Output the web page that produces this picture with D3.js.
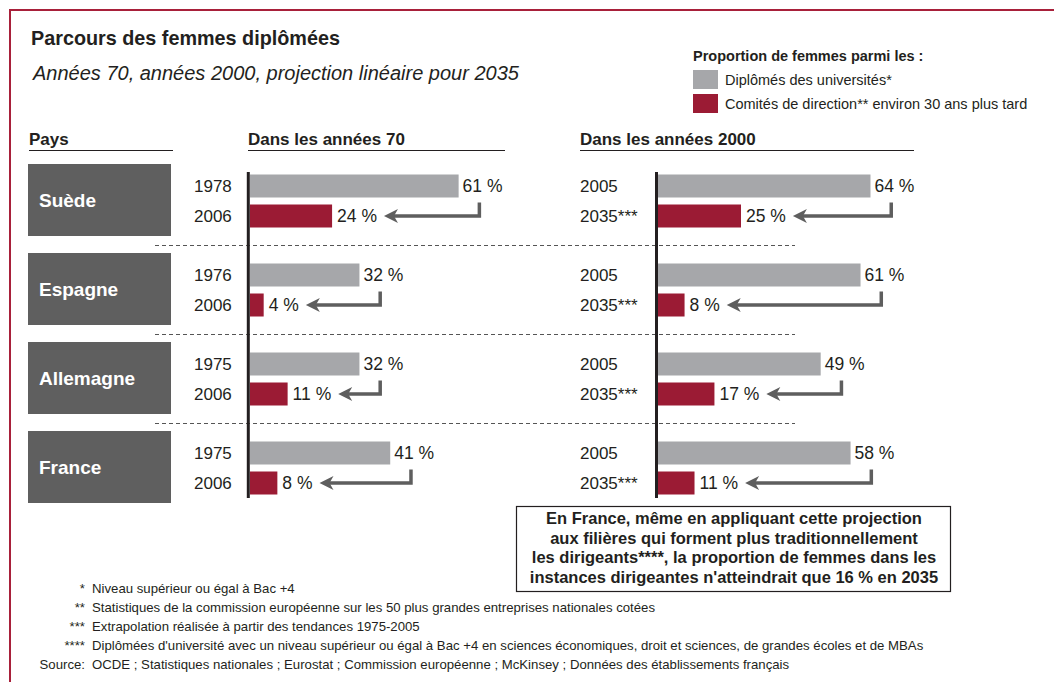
<!DOCTYPE html>
<html>
<head>
<meta charset="utf-8">
<script src="https://d3js.org/d3.v7.min.js"></script>
<style>
  body { margin: 0; background: white; }
  svg text { font-family: "Liberation Sans", Arial, sans-serif; fill: #231f20; }
</style>
</head>
<body>
<svg width="1054" height="682"></svg>
<script>
// data
var countries = ["Suède", "Espagne", "Allemagne", "France"];
var years70 = ["1978", "1976", "1975", "1975"];
var years70Board = ["2006", "2006", "2006", "2006"];
var grads70 = [61, 32, 32, 41];
var boards70 = [24, 4, 11, 8];
var years2000 = ["2005", "2005", "2005", "2005"];
var years2035 = ["2035***", "2035***", "2035***", "2035***"];
var grads2000 = [64, 61, 49, 58];
var boards2035 = [25, 8, 17, 11];

var footMarks = ["*", "**", "***", "****", "Source:"];
var footTexts = [
  "Niveau supérieur ou égal à Bac +4",
  "Statistiques de la commission européenne sur les 50 plus grandes entreprises nationales cotées",
  "Extrapolation réalisée à partir des tendances 1975-2005",
  "Diplômées d'université avec un niveau supérieur ou égal à Bac +4 en sciences économiques, droit et sciences, de grandes écoles et de MBAs",
  "OCDE ; Statistiques nationales ; Eurostat ; Commission européenne ; McKinsey ; Données des établissements français"
];
var boxLines = [
  "En France, même en appliquant cette projection",
  "aux filières qui forment plus traditionnellement",
  "les dirigeants****, la proportion de femmes dans les",
  "instances dirigeantes n'atteindrait que 16 % en 2035"
];

var grey = "#a6a7aa", red = "#9b1b34", boxCol = "#5f5f5f", arrowCol = "#5e5e5e";

var svg = d3.select("svg");

// frame
svg.append("rect").attr("x", 10).attr("y", 10).attr("width", 1100).attr("height", 700)
  .attr("fill", "none").attr("stroke", "#a8203a").attr("stroke-width", 2);

svg.append("text").attr("x", 31).attr("y", 45).style("font-size", "19.8px").style("font-weight", "bold")
  .text("Parcours des femmes diplômées");
svg.append("text").attr("x", 33).attr("y", 80).style("font-size", "20px").style("font-style", "italic")
  .text("Années 70, années 2000, projection linéaire pour 2035");

// legend
svg.append("text").attr("x", 693).attr("y", 61).style("font-size", "14.5px").style("font-weight", "bold")
  .text("Proportion de femmes parmi les :");
var legend = [["Diplômés des universités*", grey], ["Comités de direction** environ 30 ans plus tard", red]];
legend.forEach(function(l, i) {
  svg.append("rect").attr("x", 693).attr("y", 70 + i * 24).attr("width", 25).attr("height", 19).attr("fill", l[1]);
  svg.append("text").attr("x", 725).attr("y", 85 + i * 24).style("font-size", "14.5px").text(l[0]);
});

// column headers
var headers = [["Pays", 29, 173], ["Dans les années 70", 248, 505], ["Dans les années 2000", 580, 914]];
headers.forEach(function(h) {
  svg.append("text").attr("x", h[1]).attr("y", 145).style("font-size", "17px").style("font-weight", "bold").text(h[0]);
  svg.append("line").attr("x1", h[1]).attr("x2", h[2]).attr("y1", 150.5).attr("y2", 150.5)
    .attr("stroke", "#231f20").attr("stroke-width", 1.2);
});

// scales
var ys = d3.scaleBand().domain(countries).range([164, 503]).paddingInner(17 / 89);
var inner = d3.scaleBand().domain(["grad", "board"]).range([10.5, 63.5]).paddingInner(7 / 30);
var xLeft = d3.scaleLinear().domain([0, 100]).range([250, 592]);
var xRight = d3.scaleLinear().domain([0, 100]).range([658, 990]);

// country boxes
countries.forEach(function(c) {
  svg.append("rect").attr("x", 28).attr("y", ys(c)).attr("width", 143).attr("height", ys.bandwidth()).attr("fill", boxCol);
  svg.append("text").attr("x", 39).attr("y", ys(c) + ys.bandwidth() / 2 + 7)
    .style("font-size", "19px").style("font-weight", "bold").style("fill", "white").text(c);
});

// dashed separators
countries.slice(1).forEach(function(c) {
  var y = Math.round(ys(c) - ys.step() * ys.paddingInner() / 2) + 0.5;
  svg.append("line").attr("x1", 155).attr("x2", 795).attr("y1", y).attr("y2", y)
    .attr("stroke", "#555").attr("stroke-width", 1).attr("stroke-dasharray", "4,3");
});

function panel(xs, axisX, yearX, yearsA, yearsB, gradVals, boardVals) {
  var g = svg.append("g");
  countries.forEach(function(c, i) {
    var gy = ys(c) + inner("grad"), by = ys(c) + inner("board"), h = inner.bandwidth();
    g.append("rect").attr("x", xs(0)).attr("y", gy).attr("width", xs(gradVals[i]) - xs(0)).attr("height", h).attr("fill", grey);
    g.append("rect").attr("x", xs(0)).attr("y", by).attr("width", xs(boardVals[i]) - xs(0)).attr("height", h).attr("fill", red);
    g.append("text").attr("x", yearX).attr("y", gy + h / 2).attr("dy", "0.36em").style("font-size", "17px").text(yearsA[i]);
    g.append("text").attr("x", yearX).attr("y", by + h / 2).attr("dy", "0.36em").style("font-size", "17px").text(yearsB[i]);
    var gl = g.append("text").attr("x", xs(gradVals[i]) + 4).attr("y", gy + h / 2).attr("dy", "0.36em")
      .style("font-size", "17.5px").text(gradVals[i] + " %");
    var bl = g.append("text").attr("x", xs(boardVals[i]) + 5).attr("y", by + h / 2).attr("dy", "0.36em")
      .style("font-size", "17.5px").text(boardVals[i] + " %");
    // arrow from the graduate label down to the board label
    var vx = xs(gradVals[i]) + 4 + gl.node().getComputedTextLength() * 0.42;
    var tx = xs(boardVals[i]) + 5 + bl.node().getComputedTextLength() + 7;
    var cy = by + h / 2;
    g.append("path").attr("d", "M" + vx + "," + (gy + h + 5) + "V" + cy + "H" + (tx + 8))
      .attr("fill", "none").attr("stroke", arrowCol).attr("stroke-width", 3.5);
    g.append("path").attr("d", "M" + tx + "," + cy + "L" + (tx + 14) + "," + (cy - 7) + "L" + (tx + 10) + "," + cy +
      "L" + (tx + 14) + "," + (cy + 7) + "Z").attr("fill", arrowCol);
  });
  g.append("line").attr("x1", axisX).attr("x2", axisX).attr("y1", 172).attr("y2", 498)
    .attr("stroke", "#231f20").attr("stroke-width", 3);
}
panel(xLeft, 248.3, 194, years70, years70Board, grads70, boards70);
panel(xRight, 656.5, 580, years2000, years2035, grads2000, boards2035);

// note box
svg.append("rect").attr("x", 516.5).attr("y", 506.5).attr("width", 434).attr("height", 85)
  .attr("fill", "white").attr("stroke", "#231f20").attr("stroke-width", 1.2);
boxLines.forEach(function(t, i) {
  svg.append("text").attr("x", 734).attr("y", 524 + i * 19.5).attr("text-anchor", "middle")
    .style("font-size", "16.5px").style("font-weight", "bold").text(t);
});

// footnotes
footMarks.forEach(function(m, i) {
  svg.append("text").attr("x", 85).attr("y", 593 + i * 19).attr("text-anchor", "end").style("font-size", "13.2px").text(m);
  svg.append("text").attr("x", 92).attr("y", 593 + i * 19).style("font-size", "13.2px").text(footTexts[i]);
});
</script>
</body>
</html>
